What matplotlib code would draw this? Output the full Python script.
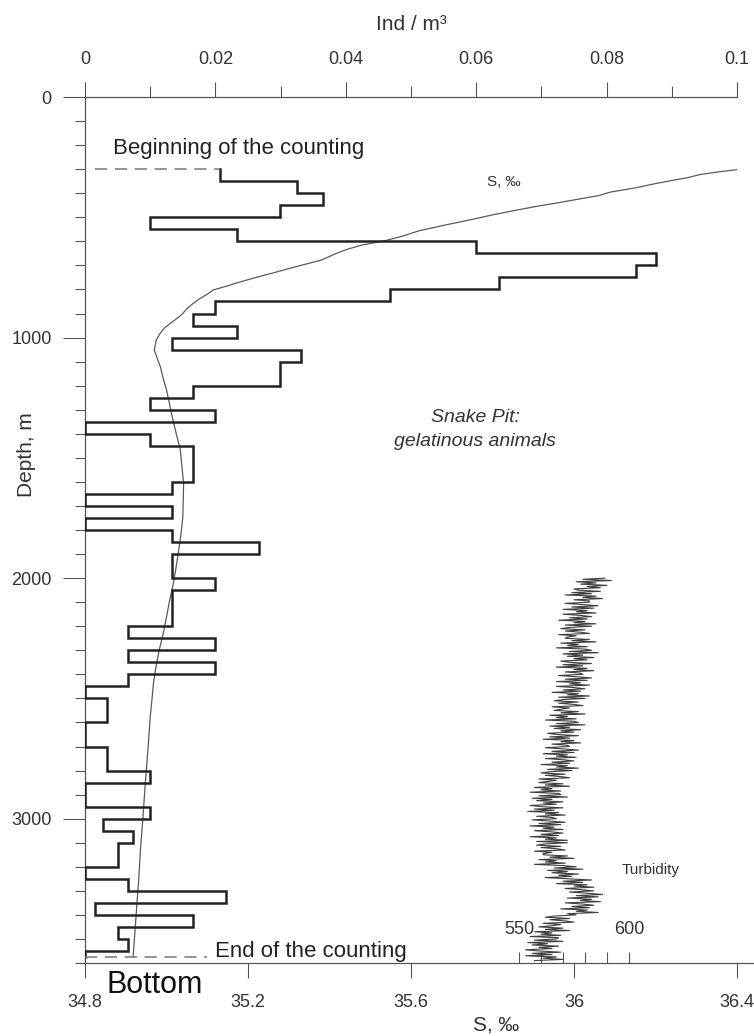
import matplotlib
matplotlib.use('Agg')
import matplotlib.pyplot as plt
import matplotlib.transforms as mtransforms
from matplotlib.ticker import MultipleLocator

plt.rcParams['font.family'] = ['Liberation Sans', 'DejaVu Sans']

##############################################
### Data

# gelatinous animals, Ind / m3, 50 m bins from 300 m
count_start = 300
count_end = 3575
bin_width = 50
ind = [0.0207, 0.0325, 0.0365, 0.0299, 0.0100, 0.0233, 0.0600, 0.0875, 0.0845, 0.0635,
       0.0468, 0.0200, 0.0166, 0.0233, 0.0133, 0.0332, 0.0299, 0.0299, 0.0166, 0.0100,
       0.0200, 0.0000, 0.0100, 0.0166, 0.0166, 0.0166, 0.0133, 0.0000, 0.0133, 0.0000,
       0.0133, 0.0267, 0.0133, 0.0133, 0.0200, 0.0133, 0.0133, 0.0133, 0.0066, 0.0200,
       0.0066, 0.0200, 0.0066, 0.0000, 0.0033, 0.0033, 0.0000, 0.0000, 0.0033, 0.0033,
       0.0100, 0.0000, 0.0000, 0.0100, 0.0028, 0.0073, 0.0051, 0.0051, 0.0000, 0.0066,
       0.0217, 0.0015, 0.0166, 0.0051, 0.0066]
end_line_ind = 0.0187

# salinity profile
sal_depth = [300, 310, 322, 335, 344, 360, 378, 395, 410, 425, 440, 454, 470, 490, 509,
             530, 556, 578, 600, 615, 635, 655, 678, 700, 718, 732, 750, 769, 785, 802,
             820, 840, 857, 880, 900, 915, 940, 960, 981, 1010, 1052, 1090, 1122, 1170,
             1218, 1280, 1330, 1400, 1468, 1540, 1605, 1680, 1746, 1810, 1884, 1950, 2021,
             2090, 2162, 2230, 2300, 2370, 2437, 2510, 2578, 2700, 2852, 3000, 3131, 3250,
             3339, 3460, 3576]
sal = [36.41, 36.36, 36.31, 36.28, 36.25, 36.20, 36.15, 36.09, 36.06, 36.01, 35.96, 35.91,
       35.86, 35.80, 35.75, 35.69, 35.62, 35.58, 35.53, 35.48, 35.44, 35.41, 35.38, 35.33,
       35.29, 35.26, 35.22, 35.18, 35.15, 35.115, 35.10, 35.08, 35.066, 35.05, 35.04, 35.03,
       35.01, 34.995, 34.985, 34.975, 34.97, 34.978, 34.985, 34.992, 35.0, 35.008, 35.014,
       35.024, 35.034, 35.038, 35.042, 35.041, 35.040, 35.036, 35.03, 35.024, 35.017,
       35.008, 35.0, 34.992, 34.982, 34.974, 34.968, 34.964, 34.96, 34.955, 34.948, 34.942,
       34.936, 34.932, 34.928, 34.923, 34.918]

# turbidity, every 5 m from 2000 m
turb_start = 2000
turb_step = 5
turb = [589, 579, 592, 576, 585, 578, 590, 581, 587, 575,
        577, 587, 574, 583, 571, 585, 579, 588, 575, 582,
        582, 571, 579, 586, 574, 584, 570, 581, 576, 585,
        570, 578, 583, 573, 581, 568, 580, 575, 585, 571,
        583, 573, 569, 580, 571, 578, 582, 568, 576, 572,
        571, 582, 574, 585, 569, 577, 572, 581, 567, 580,
        583, 573, 586, 570, 579, 572, 584, 575, 581, 569,
        573, 583, 570, 579, 567, 581, 575, 584, 571, 578,
        579, 568, 576, 583, 571, 581, 567, 578, 573, 582,
        567, 575, 580, 570, 578, 565, 577, 572, 582, 568,
        580, 570, 566, 577, 568, 575, 579, 565, 573, 569,
        566, 577, 569, 580, 564, 572, 567, 576, 562, 575,
        577, 567, 580, 564, 573, 566, 578, 569, 575, 563,
        567, 577, 564, 573, 561, 575, 569, 578, 565, 572,
        573, 562, 570, 577, 565, 575, 561, 572, 567, 576,
        562, 570, 575, 565, 573, 560, 572, 567, 577, 563,
        574, 564, 560, 571, 562, 569, 573, 559, 567, 563,
        559, 570, 562, 573, 557, 565, 560, 569, 555, 568,
        569, 559, 572, 556, 565, 558, 570, 561, 567, 555,
        560, 570, 557, 566, 554, 568, 562, 571, 558, 565,
        567, 556, 564, 571, 559, 569, 555, 566, 561, 570,
        557, 565, 570, 560, 568, 555, 567, 562, 572, 558,
        572, 562, 558, 569, 560, 567, 571, 557, 565, 561,
        561, 572, 564, 575, 559, 567, 562, 571, 557, 570,
        576, 566, 579, 563, 572, 565, 577, 568, 574, 562,
        573, 583, 570, 579, 567, 581, 575, 584, 571, 578,
        584, 573, 581, 588, 576, 586, 572, 583, 578, 587,
        571, 579, 584, 574, 582, 569, 581, 576, 586, 572,
        576, 566, 562, 573, 564, 571, 575, 561, 569, 565,
        559, 570, 562, 573, 557, 565, 560, 569, 555, 568,
        567, 557, 570, 554, 563, 556, 568, 559, 565, 553,
        559, 569, 556, 565, 553, 567, 561, 570, 557]
turb_ticks = [550, 560, 570, 580, 590, 600]
turb_labels = ['550', '600']

s_ticks = [34.8, 35.2, 35.6, 36.0, 36.4]
s_ticklabels = ['34.8', '35.2', '35.6', '36', '36.4']
ind_ticks = [0, 0.02, 0.04, 0.06, 0.08, 0.1]
ind_ticklabels = ['0', '0.02', '0.04', '0.06', '0.08', '0.1']
depth_ticks = [0, 1000, 2000, 3000]

###############################################
### Figure

W, H = 754, 1036
fig = plt.figure(figsize=(W / 100, H / 100), dpi=100)

def fx(x):
    return x / W

def fy(y):
    return 1 - y / H

x0, x1 = 85, 737
y0, y1 = 97, 963
ax = fig.add_axes([fx(x0), fy(y1), (x1 - x0) / W, (y1 - y0) / H])
ax2 = ax.twiny()
ax3 = ax.twiny()

gray = '#555555'
tc = '#333333'

# salinity axis (bottom)
ax.set_xlim(34.8, 36.4)
ax.set_ylim(3600, 0)
for sp in ['top', 'right']:
    ax.spines[sp].set_visible(False)
for sp in ['left', 'bottom']:
    ax.spines[sp].set_color(gray)
    ax.spines[sp].set_linewidth(0.9)
ax.spines['bottom'].set_bounds(34.8, 36.44)
ax.set_xticks(s_ticks, labels=s_ticklabels)
ax.tick_params(axis='x', direction='out', length=11, width=0.8, color=gray,
               labelsize=13, labelcolor=tc, pad=11)
ax.set_yticks(depth_ticks)
ax.yaxis.set_minor_locator(MultipleLocator(100))
ax.tick_params(axis='y', which='major', direction='out', length=16, width=0.8,
               color=gray, labelsize=13, labelcolor=tc, pad=8)
ax.tick_params(axis='y', which='minor', direction='out', length=7, width=0.8, color=gray)
ax.plot(sal, sal_depth, color='#5a5a5a', lw=0.9)

# Ind axis (top)
ax2.set_xlim(0, 0.1)
for sp in ['left', 'right', 'bottom']:
    ax2.spines[sp].set_visible(False)
ax2.spines['top'].set_color(gray)
ax2.spines['top'].set_linewidth(0.9)
ax2.set_xticks(ind_ticks, labels=ind_ticklabels)
ax2.xaxis.set_minor_locator(MultipleLocator(0.01))
ax2.tick_params(axis='x', which='major', direction='out', length=11, width=0.8,
                color=gray, labelsize=13, labelcolor=tc, pad=10)
ax2.tick_params(axis='x', which='minor', direction='out', length=8, width=0.8, color=gray)

xs = []
ys = []
for i, v in enumerate(ind):
    top = count_start + i * bin_width
    xs += [v, v]
    ys += [top, top + bin_width]
xs += [0, 0]
ys += [count_start + len(ind) * bin_width, count_end]
ax2.plot(xs, ys, color='#222222', lw=1.8, solid_joinstyle='miter')
ax2.plot([0.0015, ind[0]], [count_start, count_start], color='#777777', lw=1.1,
         ls=(0, (8, 5)))
ax2.plot([0, end_line_ind], [count_end, count_end], color='#777777', lw=1.1,
         ls=(0, (8, 5)))

# turbidity axis (ticks up from bottom)
ax3.set_xlim(352.7, 649.1)
for sp in ax3.spines.values():
    sp.set_visible(False)
ax3.xaxis.set_ticks_position('bottom')
ax3.set_xticks(turb_ticks, labels=[''] * len(turb_ticks))
ax3.tick_params(axis='x', direction='in', length=8, width=0.8, color=gray)
turb_depth = [turb_start + i * turb_step for i in range(len(turb))]
ax3.plot(turb, turb_depth, color='#2a2a2a', lw=0.8, alpha=0.9)
tr = mtransforms.blended_transform_factory(ax3.transData, fig.transFigure)
for lab in turb_labels:
    ax3.text(float(lab), fy(930), lab, transform=tr, ha='center', va='center',
             fontsize=13, color=tc)

###############################################
### Notes

fig.text(fx(411), fy(25), 'Ind / m³', ha='center', va='center', fontsize=15, color=tc)
fig.text(fx(27), fy(455), 'Depth, m', ha='center', va='center', rotation=90,
         fontsize=15, color=tc)
fig.text(fx(496), fy(1025), 'S, ‰', ha='center', va='center', fontsize=15, color=tc)
fig.text(fx(113), fy(154), 'Beginning of the counting', ha='left', va='baseline',
         fontsize=16, color='#222222')
fig.text(fx(215), fy(957), 'End of the counting', ha='left', va='baseline',
         fontsize=16, color='#222222')
fig.text(fx(107), fy(993), 'Bottom', ha='left', va='baseline', fontsize=22,
         color='#111111')
fig.text(fx(475), fy(418), 'Snake Pit:', ha='center', va='center', fontsize=14,
         style='italic', color=tc)
fig.text(fx(475), fy(441), 'gelatinous animals', ha='center', va='center', fontsize=14,
         style='italic', color=tc)
fig.text(fx(487), fy(182), 'S, ‰', ha='left', va='center', fontsize=11, color=tc)
fig.text(fx(622), fy(870), 'Turbidity', ha='left', va='center', fontsize=11, color=tc)

fig.savefig('out.png', dpi=100)
